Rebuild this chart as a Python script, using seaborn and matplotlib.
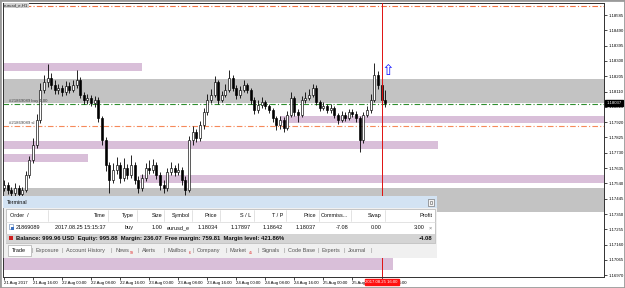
import numpy as np
import pandas as pd
import matplotlib
matplotlib.use("Agg")
import matplotlib.pyplot as plt
import matplotlib.transforms as mtrans
from matplotlib.patches import Rectangle
import seaborn as sns

sns.set_theme(style="white")
plt.rcParams['font.family'] = ['Liberation Sans', 'DejaVu Sans']

# ---------------- data ----------------
opens = [1.17511, 1.17530, 1.17499, 1.17480, 1.17511, 1.17474, 1.17499, 1.17592, 1.17685, 1.17778,
         1.17933, 1.18120, 1.18169, 1.18194, 1.18151, 1.18120, 1.18132, 1.18107, 1.18145, 1.18120,
         1.18151, 1.18182, 1.18089, 1.18058, 1.18070, 1.18039, 1.18058, 1.17946, 1.17809, 1.17654,
         1.17561, 1.17623, 1.17654, 1.17573, 1.17635, 1.17592, 1.17654, 1.17561, 1.17511, 1.17573,
         1.17635, 1.17623, 1.17654, 1.17592, 1.17530, 1.17511, 1.17611, 1.17635, 1.17611, 1.17623,
         1.17561, 1.17499, 1.17809, 1.17859, 1.17822, 1.17902, 1.17983, 1.18058, 1.18089, 1.18169,
         1.18058, 1.18089, 1.18120, 1.18194, 1.18132, 1.18089, 1.18120, 1.18151, 1.18120, 1.18058,
         1.17996, 1.18027, 1.18045, 1.18020, 1.17996, 1.17946, 1.17902, 1.17933, 1.17884, 1.17965,
         1.18070, 1.17983, 1.17965, 1.18058, 1.18070, 1.18089, 1.18132, 1.18045, 1.18008, 1.18020,
         1.17996, 1.18008, 1.17965, 1.17933, 1.17965, 1.17946, 1.17983, 1.17971, 1.17946, 1.17809,
         1.17965, 1.17996, 1.18058, 1.18213, 1.18151, 1.18058]
closes = [1.17530, 1.17499, 1.17480, 1.17511, 1.17474, 1.17499, 1.17592, 1.17685, 1.17778, 1.17933,
          1.18120, 1.18169, 1.18194, 1.18151, 1.18120, 1.18132, 1.18107, 1.18145, 1.18120, 1.18151,
          1.18182, 1.18089, 1.18058, 1.18070, 1.18039, 1.18058, 1.17946, 1.17809, 1.17654, 1.17561,
          1.17623, 1.17654, 1.17573, 1.17635, 1.17592, 1.17654, 1.17561, 1.17511, 1.17573, 1.17635,
          1.17623, 1.17654, 1.17592, 1.17530, 1.17511, 1.17611, 1.17635, 1.17611, 1.17623, 1.17561,
          1.17499, 1.17809, 1.17859, 1.17822, 1.17902, 1.17983, 1.18058, 1.18089, 1.18169, 1.18058,
          1.18089, 1.18120, 1.18194, 1.18132, 1.18089, 1.18120, 1.18151, 1.18120, 1.18058, 1.17996,
          1.18027, 1.18045, 1.18020, 1.17996, 1.17946, 1.17902, 1.17933, 1.17884, 1.17965, 1.18070,
          1.17983, 1.17965, 1.18058, 1.18070, 1.18089, 1.18132, 1.18045, 1.18008, 1.18020, 1.17996,
          1.18008, 1.17965, 1.17933, 1.17965, 1.17946, 1.17983, 1.17971, 1.17946, 1.17809, 1.17965,
          1.17996, 1.18058, 1.18213, 1.18151, 1.18058, 1.18037]
highs = [1.17560, 1.17550, 1.17520, 1.17540, 1.17530, 1.17520, 1.17615, 1.17710, 1.17820, 1.17970,
         1.18165, 1.18215, 1.18281, 1.18225, 1.18180, 1.18160, 1.18150, 1.18175, 1.18170, 1.18180,
         1.18244, 1.18200, 1.18105, 1.18095, 1.18090, 1.18085, 1.18075, 1.17960, 1.17825, 1.17675,
         1.17665, 1.17705, 1.17675, 1.17695, 1.17660, 1.17715, 1.17675, 1.17585, 1.17600, 1.17665,
         1.17685, 1.17690, 1.17670, 1.17610, 1.17560, 1.17635, 1.17675, 1.17655, 1.17665, 1.17640,
         1.17585, 1.17835, 1.17895, 1.17880, 1.17930, 1.18010, 1.18095, 1.18125, 1.18205, 1.18185,
         1.18115, 1.18155, 1.18244, 1.18210, 1.18150, 1.18145, 1.18185, 1.18165, 1.18135, 1.18075,
         1.18055, 1.18075, 1.18060, 1.18035, 1.18010, 1.17960, 1.17960, 1.17950, 1.17990, 1.18105,
         1.18085, 1.18005, 1.18085, 1.18105, 1.18125, 1.18160, 1.18150, 1.18060, 1.18045, 1.18035,
         1.18030, 1.18020, 1.17980, 1.17990, 1.17985, 1.18005, 1.18000, 1.17990, 1.17960, 1.17985,
         1.18020, 1.18095, 1.18287, 1.18240, 1.18170, 1.18120]
lows = [1.17490, 1.17475, 1.17455, 1.17462, 1.17450, 1.17458, 1.17485, 1.17575, 1.17665, 1.17760,
        1.17915, 1.18100, 1.18140, 1.18125, 1.18095, 1.18095, 1.18085, 1.18090, 1.18100, 1.18105,
        1.18135, 1.18070, 1.18035, 1.18035, 1.18020, 1.18015, 1.17920, 1.17780, 1.17620, 1.17480,
        1.17540, 1.17600, 1.17545, 1.17555, 1.17570, 1.17575, 1.17535, 1.17478, 1.17490, 1.17555,
        1.17600, 1.17605, 1.17570, 1.17500, 1.17482, 1.17495, 1.17590, 1.17585, 1.17590, 1.17530,
        1.17468, 1.17485, 1.17780, 1.17800, 1.17805, 1.17880, 1.17965, 1.18040, 1.18075, 1.18035,
        1.18045, 1.18075, 1.18105, 1.18115, 1.18065, 1.18070, 1.18110, 1.18100, 1.18035, 1.17970,
        1.17980, 1.18010, 1.18000, 1.17975, 1.17920, 1.17870, 1.17880, 1.17860, 1.17870, 1.17950,
        1.17960, 1.17921, 1.17950, 1.18040, 1.18055, 1.18075, 1.18025, 1.17990, 1.17995, 1.17975,
        1.17980, 1.17945, 1.17910, 1.17920, 1.17925, 1.17935, 1.17950, 1.17920, 1.17735, 1.17790,
        1.17950, 1.17980, 1.18045, 1.18125, 1.18020, 1.18015]

xtick_bars = [0, 8, 16, 24, 32, 40, 48, 56, 64, 72, 80, 88, 96, 104]
xtick_labels = ["21 Aug 2017", "21 Aug 16:00", "22 Aug 00:00", "22 Aug 08:00", "22 Aug 16:00",
                "23 Aug 00:00", "23 Aug 08:00", "23 Aug 16:00", "24 Aug 00:00", "24 Aug 08:00",
                "24 Aug 16:00", "25 Aug 00:00", "25 Aug 08:00", "25 Aug 16:00"]
price_ticks = [1.18585, 1.18490, 1.18395, 1.18300, 1.18205, 1.18110, 1.18015, 1.17920, 1.17825,
               1.17730, 1.17635, 1.17540, 1.17445, 1.17350, 1.17255, 1.17160, 1.17065, 1.16970]

# zones: start bar, end bar, low price, high price, kind
zone_start = [-1, -1, 76.0, -1, -1, 37.5, -1, -1]
zone_end = [170, 170, 170, 119.6, 23.1, 170, 107.2, 38.0]
zone_low = [1.18040, 1.17362, 1.17912, 1.17753, 1.17670, 1.17542, 1.17002, 1.18235]
zone_high = [1.18191, 1.17511, 1.17958, 1.17803, 1.17722, 1.17595, 1.17083, 1.18287]
zone_kind = ["gray", "gray", "purple", "purple", "purple", "purple", "purple", "purple"]

take_profit = 1.18642
stop_loss = 1.17897
open_price = 1.18034
current_price = 1.18037
cursor_bar = 104
cursor_label = "2017.08.25 16:00"
arrow_bar = 105.8
arrow_price = 1.18238

# ---------------- figure ----------------
W, H = 625, 288
fig = plt.figure(figsize=(W / 100, H / 100), dpi=100)
fig.patch.set_facecolor("white")
AF = 3.1   # axis font size
TF = 4.0   # terminal font size


def px_rect(x0, y0, x1, y1):
    return [x0 / W, 1 - y1 / H, (x1 - x0) / W, (y1 - y0) / H]


ax = fig.add_axes(px_rect(3, 3, 604, 276.5))
ax.set_facecolor("white")
ax.set_xlim(-0.275, 165.29)
ax.set_ylim(1.16962, 1.18660)

zone_colors = {"gray": "#c3c3c3", "purple": "#d9bfd9"}
for s, e, lo, hi, k in zip(zone_start, zone_end, zone_low, zone_high, zone_kind):
    ax.add_patch(Rectangle((s, lo), e - s, hi - lo, facecolor=zone_colors[k],
                           edgecolor="none", zorder=0))

# level lines
ax.axhline(take_profit, color="#f2703f", lw=0.8, ls=(0, (5, 2, 1, 2)), zorder=1)
ax.axhline(stop_loss, color="#f6895a", lw=0.8, ls=(0, (5, 2, 1, 2)), zorder=1)
ax.axhline(open_price, color="#2f8f2f", lw=0.8, ls=(0, (5, 2, 1, 2)), zorder=1)

# candles
df = pd.DataFrame({"o": opens, "h": highs, "l": lows, "c": closes})
df["bar"] = np.arange(len(df))
ax.vlines(df["bar"], df["l"], df["h"], color="black", lw=0.6, zorder=3)
bull = df["c"] >= df["o"]
body = (df["c"] - df["o"]).abs().clip(lower=0.00002)
bottom = df[["o", "c"]].min(axis=1)
ax.bar(df["bar"][bull], body[bull], bottom=bottom[bull], width=0.55,
       color="white", edgecolor="black", linewidth=0.45, zorder=4)
ax.bar(df["bar"][~bull], body[~bull], bottom=bottom[~bull], width=0.55,
       color="black", edgecolor="black", linewidth=0.45, zorder=4)

# cursor line & arrow
ax.axvline(cursor_bar, color="#e01010", lw=0.7, zorder=5)
ax.text(arrow_bar, arrow_price, "\u21e7", color="#1a1aff", fontsize=11, ha="center",
        va="center", family="DejaVu Sans", zorder=6)

# texts on chart
ax.text(0.002, 0.997, "eurusd_e,H1", transform=ax.transAxes, ha="left", va="top",
        fontsize=AF, color="#202020",
        bbox=dict(facecolor="#cfcfcf", edgecolor="none", pad=0.4), zorder=7)
ax.text(1.5, open_price + 0.00004, "#21869089 buy 1.00", fontsize=AF, color="#404040",
        ha="left", va="bottom", zorder=6)
ax.text(1.5, stop_loss + 0.00004, "#21869089 sl", fontsize=AF, color="#404040",
        ha="left", va="bottom", zorder=6)

# axes
ax.set_xticks(xtick_bars)
ax.set_xticklabels(xtick_labels, ha="left", fontsize=AF)
ax.yaxis.tick_right()
ax.set_yticks(price_ticks)
ax.set_yticklabels([f"{p:.5f}" for p in price_ticks], fontsize=AF)
ax.tick_params(axis="both", which="both", length=2, width=0.5, pad=1.2, colors="black",
               direction="out", bottom=True, right=True, left=False, top=False)
ax.grid(False)
for sp in ax.spines.values():
    sp.set_color("#303030")
    sp.set_linewidth(0.7)

blend_y = mtrans.blended_transform_factory(ax.transAxes, ax.transData)
ax.text(1.004, current_price, f"{current_price:.5f}", transform=blend_y, ha="left",
        va="center", fontsize=AF, color="white", clip_on=False, zorder=8,
        bbox=dict(facecolor="black", edgecolor="black", pad=0.7))
blend_x = mtrans.blended_transform_factory(ax.transData, ax.transAxes)
ax.text(cursor_bar, -0.012, cursor_label, transform=blend_x, ha="center", va="top",
        fontsize=AF, color="white", clip_on=False, zorder=9,
        bbox=dict(facecolor="#ff1010", edgecolor="#ff1010", pad=0.6))

# ---------------- terminal panel ----------------
tax = fig.add_axes(px_rect(3, 196, 437, 258))
tax.set_zorder(10)
tax.set_xlim(3, 437)
tax.set_ylim(258, 196)
tax.axis("off")
tax.add_patch(Rectangle((3, 196), 434, 62, facecolor="#f0f0f0", edgecolor="#8a8a8a", lw=0.6))
tax.add_patch(Rectangle((3.3, 196.3), 433.4, 11.5, facecolor="#d3e3f3", edgecolor="none"))
tax.text(7, 202.2, "Terminal", fontsize=TF, va="center", ha="left", color="#101010")
tax.add_patch(Rectangle((428, 199), 6, 6.5, facecolor="#f4f4f4", edgecolor="#606060", lw=0.4))
tax.add_patch(Rectangle((429.8, 200.8), 2.4, 3, facecolor="none", edgecolor="#606060", lw=0.4))
tax.add_patch(Rectangle((6, 209), 429, 34, facecolor="white", edgecolor="#a0a0a0", lw=0.4))
tax.plot([6, 435], [221.5, 221.5], color="#d8d8d8", lw=0.5)

headers = ["Time", "Type", "Size", "Symbol", "Price", "S / L", "T / P", "Price",
           "Commiss...", "Swap", "Profit"]
header_right = [106, 134, 162, 190, 217, 251, 283, 316, 348, 382, 432]
seps = [48, 108, 137, 164, 192, 220, 254, 286, 319, 351, 385]
tax.text(10, 215.5, "Order  /", fontsize=TF, va="center", ha="left", color="#101010")
for h, xr in zip(headers, header_right):
    tax.text(xr, 215.5, h, fontsize=TF, va="center", ha="right", color="#101010")
for xs in seps:
    tax.plot([xs, xs], [210, 221], color="#d8d8d8", lw=0.5)

row = ["2017.08.25 15:15:37", "buy", "1.00", "eurusd_e", "1.18034", "1.17897", "1.18642",
       "1.18037", "-7.08", "0.00", "3.00"]
row_right = [106, 134, 162, 190, 218, 251, 283, 316, 348, 382, 425]
tax.add_patch(Rectangle((9, 223.5), 4, 5.5, facecolor="white", edgecolor="#5a7fb0", lw=0.4))
tax.add_patch(Rectangle((11, 226.5), 2.5, 3, facecolor="#3a6fc0", edgecolor="none"))
tax.text(16, 227.8, "21869089", fontsize=TF, va="center", ha="left", color="#101010")
for v, xr in zip(row, row_right):
    tax.text(xr, 227.8, v, fontsize=TF, va="center", ha="right", color="#101010")
tax.text(429, 227.8, "\u00d7", fontsize=TF, va="center", ha="left", color="#707070")

tax.add_patch(Rectangle((6.3, 234), 428.4, 8.5, facecolor="#d4d4d4", edgecolor="none"))
tax.add_patch(Rectangle((9, 236), 4, 4, facecolor="#d02020", edgecolor="none"))
tax.text(16, 238.3, "Balance: 999.96 USD  Equity: 995.88  Margin: 236.07  Free margin: 759.81  "
         "Margin level: 421.86%", fontsize=4.2, va="center", ha="left", fontweight="bold",
         color="#101010")
tax.text(432, 238.3, "-4.08", fontsize=4.2, va="center", ha="right", fontweight="bold",
         color="#101010")

tax.add_patch(Rectangle((8, 244.5), 23, 11.5, facecolor="white", edgecolor="#9a9a9a", lw=0.4))
tabs = ["Trade", "Exposure", "Account History", "News", "Alerts", "Mailbox", "Company",
        "Market", "Signals", "Code Base", "Experts", "Journal"]
tab_x = [12, 35, 66, 115, 142, 168, 197, 230, 262, 288, 322, 348]
tab_seps = [32, 62, 111, 138, 164, 193, 226, 258, 284, 318, 344, 371]
for t, xx in zip(tabs, tab_x):
    tax.text(xx, 250.3, t, fontsize=TF, va="center", ha="left",
             color="#101010" if t == "Trade" else "#555555")
for xs in tab_seps:
    tax.text(xs, 250.3, "|", fontsize=TF, va="center", ha="center", color="#909090")
badges = ["99", "6", "45"]
badge_x = [129.5, 188.5, 248.5]
for b, xx in zip(badges, badge_x):
    tax.text(xx, 252.5, b, fontsize=2.6, va="center", ha="left", color="#e02020")

# window frame
fig.patches.append(Rectangle((0, 0), 1, 1, transform=fig.transFigure, facecolor="none",
                             edgecolor="#9a9a9a", lw=2.0))

fig.savefig("out.png", dpi=100, facecolor="white")
